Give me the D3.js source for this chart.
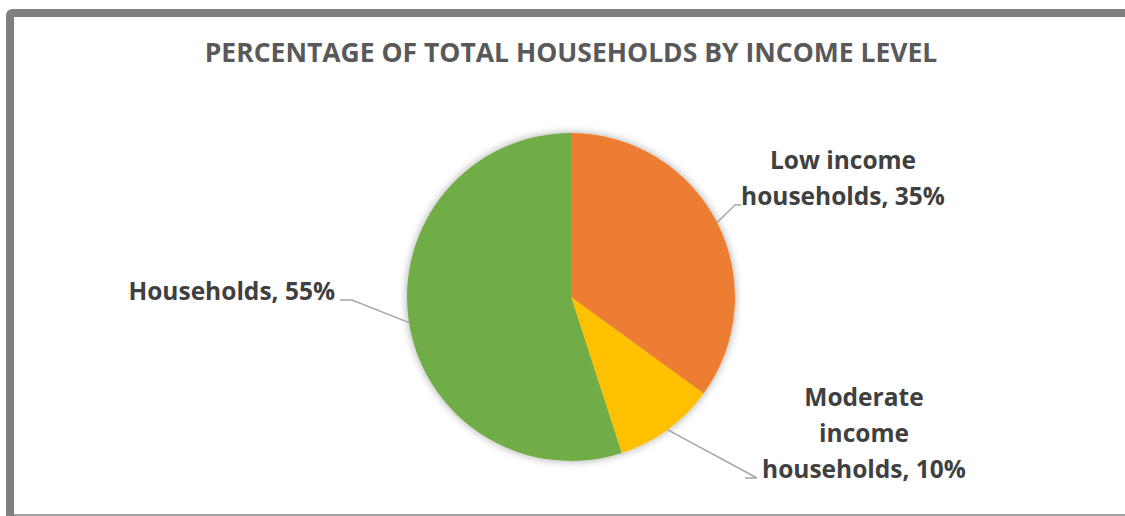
<!DOCTYPE html>
<html><head><meta charset="utf-8">
<script src="https://cdn.jsdelivr.net/npm/d3@7"></script>
<style>html,body{margin:0;padding:0;background:#fff;overflow:hidden}</style>
</head><body>
<script>
const title = "PERCENTAGE OF TOTAL HOUSEHOLDS BY INCOME LEVEL";
const categories = ["Low income households", "Moderate income households", "Households"];
const values = [35, 10, 55];
const colors = ["#ED7D31", "#FFC000", "#70AD47"];
const labelLines = [["Low income", "households, 35%"], ["Moderate", "income", "households, 10%"], ["Households, 55%"]];

const W = 1125, H = 516;
const svg = d3.select("body").append("svg").attr("width", W).attr("height", H);
const defs = svg.append("defs");
const f = defs.append("filter").attr("id", "sh").attr("x", "-20%").attr("y", "-20%").attr("width", "140%").attr("height", "140%");
f.append("feGaussianBlur").attr("in", "SourceAlpha").attr("stdDeviation", 4).attr("result", "b");
f.append("feComponentTransfer").attr("in", "b").attr("result", "c").append("feFuncA").attr("type", "linear").attr("slope", 0.35);
const m = f.append("feMerge"); m.append("feMergeNode").attr("in", "c"); m.append("feMergeNode").attr("in", "SourceGraphic");

// frame
svg.append("line").attr("x1", 14).attr("x2", W).attr("y1", 515).attr("y2", 515).attr("stroke", "#a0a0a0").attr("stroke-width", 2);
svg.append("path").attr("d", `M10,${H+10} L10,16 Q10,13 13,13 L${W+10},13`).attr("fill", "none").attr("stroke", "#7f7f7f").attr("stroke-width", 8);

const font = "'Open Sans', sans-serif";
svg.append("text").attr("x", 571).attr("y", 62).attr("text-anchor", "middle")
  .attr("font-family", font).attr("font-weight", 700).attr("font-size", 26.5).attr("fill", "#595959").text(title);

const cx = 571, cy = 297, R = 164;
const data = categories.map((c, i) => ({ c, v: values[i], color: colors[i], lines: labelLines[i] }));
const pie = d3.pie().value(d => d.v).sort(null);
const arcs = pie(data);
const arc = d3.arc().innerRadius(0).outerRadius(R);
const g = svg.append("g").attr("transform", `translate(${cx},${cy})`);
g.append("g").attr("filter", "url(#sh)").selectAll("path").data(arcs).join("path")
  .attr("d", arc).attr("fill", d => d.data.color);

// label layout: text center x, first baseline, elbow segment, anchor
const layout = [
  { tx: 843, ty: 169, hx: [735, 741], hy: 205, anchor: "middle" },
  { tx: 864, ty: 406, hx: [757, 745], hy: 478, anchor: "middle" },
  { tx: 335, ty: 300, hx: [352, 340], hy: 300, anchor: "end" }
];
const lineH = 36;
arcs.forEach((a, i) => {
  const L = layout[i];
  const ang = (a.startAngle + a.endAngle) / 2;
  const px = cx + R * Math.sin(ang), py = cy - R * Math.cos(ang);
  svg.append("polyline").attr("points", `${px},${py} ${L.hx[0]},${L.hy} ${L.hx[1]},${L.hy}`)
    .attr("fill", "none").attr("stroke", "#a6a6a6").attr("stroke-width", 1.5);
  const t = svg.append("text").attr("font-family", font).attr("font-weight", 700).attr("font-size", 24.5)
    .attr("fill", "#404040").attr("text-anchor", L.anchor);
  a.data.lines.forEach((ln, j) => t.append("tspan").attr("x", L.tx).attr("y", L.ty + j * lineH).text(ln));
});
</script>
</body></html>
